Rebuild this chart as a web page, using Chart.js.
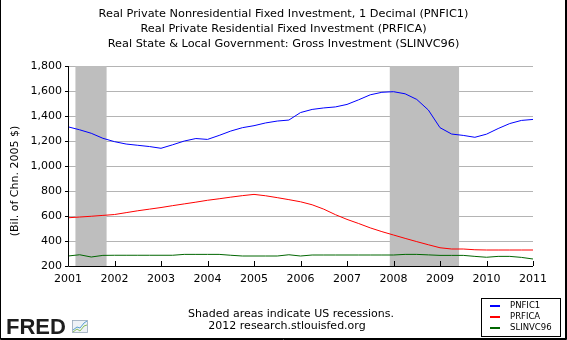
<!DOCTYPE html>
<html>
<head>
<meta charset="utf-8">
<script src="https://cdn.jsdelivr.net/npm/chart.js@4/dist/chart.umd.min.js"></script>
<style>
  html, body { margin: 0; padding: 0; background: #fff; }
  #c { display: block; }
</style>
</head>
<body>
<canvas id="c" width="567" height="340"></canvas>
<script>
// ---- Data (quarterly, billions of chained 2005 dollars) ----
const quarters = [
  '2001Q1','2001Q2','2001Q3','2001Q4','2002Q1','2002Q2','2002Q3','2002Q4',
  '2003Q1','2003Q2','2003Q3','2003Q4','2004Q1','2004Q2','2004Q3','2004Q4',
  '2005Q1','2005Q2','2005Q3','2005Q4','2006Q1','2006Q2','2006Q3','2006Q4',
  '2007Q1','2007Q2','2007Q3','2007Q4','2008Q1','2008Q2','2008Q3','2008Q4',
  '2009Q1','2009Q2','2009Q3','2009Q4','2010Q1','2010Q2','2010Q3','2010Q4',
  '2011Q1'
];
const pnfic1 = [
  1314, 1290, 1262, 1222, 1195, 1176, 1166, 1156,
  1142, 1170, 1200, 1220, 1213, 1245, 1280, 1307,
  1323, 1345, 1360, 1368, 1428, 1453, 1465, 1473,
  1493, 1530, 1570, 1590, 1595, 1578, 1533, 1448,
  1307, 1256, 1245, 1230, 1255, 1300, 1340, 1365,
  1373
];
const prfica = [
  586, 592, 598, 605, 612, 627, 642, 655,
  668, 683, 697, 711, 726, 738, 751, 763,
  773, 762, 747, 731, 714, 690, 655, 611,
  573, 540, 505, 475, 448, 421, 395, 370,
  346, 336, 336, 330, 328, 328, 328, 328,
  328
];
const slinvc96 = [
  280, 290, 272, 285, 286, 286, 286, 286,
  286, 286, 293, 293, 293, 293, 286, 280,
  280, 280, 280, 290, 280, 288, 288, 288,
  288, 288, 288, 288, 288, 293, 293, 289,
  285, 285, 285, 277, 270, 277, 277, 269,
  256
];
const seriesLabels = ['PNFIC1', 'PRFICA', 'SLINVC96'];
const seriesColors = ['#0000ff', '#ff0000', '#006600'];
const titleLines = [
  'Real Private Nonresidential Fixed Investment, 1 Decimal (PNFIC1)',
  'Real Private Residential Fixed Investment (PRFICA)',
  'Real State & Local Government: Gross Investment (SLINVC96)'
];
const yTicks = [200, 400, 600, 800, 1000, 1200, 1400, 1600, 1800];
const xTicks = [2001, 2002, 2003, 2004, 2005, 2006, 2007, 2008, 2009, 2010, 2011];
const recessions = [[2001.16, 2001.83], [2007.92, 2009.41]];
const yAxisTitle = '(Bil. of Chn. 2005 $)';
const noteLines = ['Shaded areas indicate US recessions.', '2012 research.stlouisfed.org'];

// quarter label -> decimal year
function qToYear(q) {
  return parseInt(q.slice(0, 4), 10) + (parseInt(q.slice(5), 10) - 1) / 4;
}
function toPoints(vals) {
  return quarters.map((q, i) => ({ x: qToYear(q), y: vals[i] }));
}

const FONT = 'DejaVu Sans';

const decorPlugin = {
  id: 'decor',
  beforeDatasetsDraw(chart) {
    const { ctx, chartArea, scales } = chart;
    ctx.save();
    ctx.fillStyle = '#bebebe';
    recessions.forEach(([a, b]) => {
      const x1 = scales.x.getPixelForValue(a);
      const x2 = scales.x.getPixelForValue(b);
      ctx.fillRect(x1, chartArea.top, x2 - x1, chartArea.bottom - chartArea.top);
    });
    ctx.restore();
  },
  afterDraw(chart) {
    const { ctx, chartArea, scales } = chart;
    ctx.save();
    // axes lines
    ctx.strokeStyle = '#000';
    ctx.lineWidth = 1;
    ctx.beginPath();
    ctx.moveTo(Math.round(chartArea.left) + 0.5, chartArea.top);
    ctx.lineTo(Math.round(chartArea.left) + 0.5, Math.round(chartArea.bottom) + 0.5);
    ctx.lineTo(chartArea.right, Math.round(chartArea.bottom) + 0.5);
    ctx.stroke();
    // inward x ticks
    ctx.beginPath();
    xTicks.forEach(v => {
      const x = Math.round(scales.x.getPixelForValue(v)) + 0.5;
      ctx.moveTo(x, Math.round(chartArea.bottom));
      ctx.lineTo(x, Math.round(chartArea.bottom) - 5);
    });
    ctx.stroke();

    // y-axis title
    ctx.fillStyle = '#000';
    ctx.font = '11px "' + FONT + '"';
    ctx.textAlign = 'center';
    ctx.textBaseline = 'middle';
    ctx.save();
    ctx.translate(15, 181);
    ctx.rotate(-Math.PI / 2);
    ctx.fillText(yAxisTitle, 0, 0);
    ctx.restore();

    // notes
    ctx.textAlign = 'center';
    ctx.font = '11px "' + FONT + '"';
    ctx.fillText(noteLines[0], 291, 314);
    ctx.fillText(noteLines[1], 287, 326);

    // FRED logo
    ctx.textAlign = 'left';
    ctx.textBaseline = 'alphabetic';
    ctx.font = 'bold 22px "Liberation Sans"';
    ctx.fillStyle = '#1e1e1e';
    ctx.fillText('FRED', 6, 333.5);
    // small chart icon
    ctx.fillStyle = '#eef2f6';
    ctx.fillRect(72, 320, 16, 13);
    ctx.strokeStyle = '#9ab';
    ctx.lineWidth = 0.8;
    ctx.strokeRect(72.5, 320.5, 15, 12);
    ctx.strokeStyle = '#5aa0d0';
    ctx.lineWidth = 1;
    ctx.beginPath();
    ctx.moveTo(73, 330); ctx.lineTo(77, 327); ctx.lineTo(80, 328); ctx.lineTo(84, 323); ctx.lineTo(87, 321);
    ctx.stroke();
    ctx.strokeStyle = '#8bbf5a';
    ctx.beginPath();
    ctx.moveTo(73, 332); ctx.lineTo(77, 329); ctx.lineTo(80, 331); ctx.lineTo(84, 326); ctx.lineTo(87, 325);
    ctx.stroke();

    // legend box
    ctx.fillStyle = '#fff';
    ctx.fillRect(481, 298, 79, 39);
    ctx.strokeStyle = '#000';
    ctx.lineWidth = 1;
    ctx.strokeRect(481.5, 298.5, 79, 38);
    ctx.font = '8.5px "' + FONT + '"';
    ctx.textBaseline = 'middle';
    ctx.textAlign = 'left';
    chart.data.datasets.forEach((ds, i) => {
      const y = 305.5 + i * 11.2;
      ctx.strokeStyle = ds.borderColor;
      ctx.lineWidth = 2;
      ctx.beginPath();
      ctx.moveTo(490, Math.round(y));
      ctx.lineTo(500, Math.round(y));
      ctx.stroke();
      ctx.fillStyle = '#000';
      ctx.fillText(ds.label, 510, y);
    });

    // outer frame (left, right, bottom)
    ctx.strokeStyle = '#000';
    ctx.lineWidth = 1;
    ctx.beginPath();
    ctx.moveTo(0.5, 0); ctx.lineTo(0.5, 339.5); ctx.lineTo(566.5, 339.5); ctx.lineTo(566.5, 0);
    ctx.stroke();
    ctx.beginPath();
    ctx.moveTo(565.5, 0); ctx.lineTo(565.5, 339); ctx.moveTo(0, 338.5); ctx.lineTo(566, 338.5);
    ctx.stroke();
    ctx.restore();
  }
};

const datasets = [pnfic1, prfica, slinvc96].map((vals, i) => ({
  label: seriesLabels[i],
  data: toPoints(vals),
  borderColor: seriesColors[i],
  backgroundColor: seriesColors[i],
  borderWidth: 1,
  pointRadius: 0,
  tension: 0,
  fill: false
}));

new Chart(document.getElementById('c'), {
  type: 'line',
  data: { datasets },
  options: {
    responsive: false,
    animation: false,
    events: [],
    layout: { padding: { left: 0, right: 0, top: 0, bottom: 0 } },
    plugins: {
      legend: { display: false },
      tooltip: { enabled: false },
      title: {
        display: true,
        text: titleLines,
        color: '#000',
        font: { family: FONT, size: 11.3, weight: 'normal', lineHeight: 1.3 },
        padding: { top: 7, bottom: 15 }
      }
    },
    scales: {
      x: {
        type: 'linear',
        min: 2001,
        max: 2011,
        afterBuildTicks: s => { s.ticks = xTicks.map(v => ({ value: v })); },
        ticks: {
          callback: v => String(v),
          color: '#000',
          font: { family: FONT, size: 11 },
          padding: 7,
          maxRotation: 0,
          autoSkip: false
        },
        grid: { display: false, drawTicks: false },
        border: { display: false },
        afterFit: s => { s.height = 74; }
      },
      y: {
        min: 200,
        max: 1800,
        afterBuildTicks: s => { s.ticks = yTicks.map(v => ({ value: v })); },
        ticks: {
          callback: v => v.toLocaleString('en-US'),
          color: '#000',
          font: { family: FONT, size: 11 },
          padding: 3
        },
        grid: {
          color: c => (c.tick && c.tick.value === 200) ? 'rgba(0,0,0,0)' : '#b4b4b4',
          tickColor: '#000',
          tickLength: 3,
          lineWidth: 1
        },
        border: { display: false },
        afterFit: s => { s.width = 68; }
      },
      yRight: {
        position: 'right',
        display: true,
        min: 0,
        max: 1,
        ticks: { display: false },
        grid: { display: false, drawTicks: false },
        border: { display: false },
        afterFit: s => { s.width = 34; }
      }
    }
  },
  plugins: [decorPlugin]
});
</script>
</body>
</html>
